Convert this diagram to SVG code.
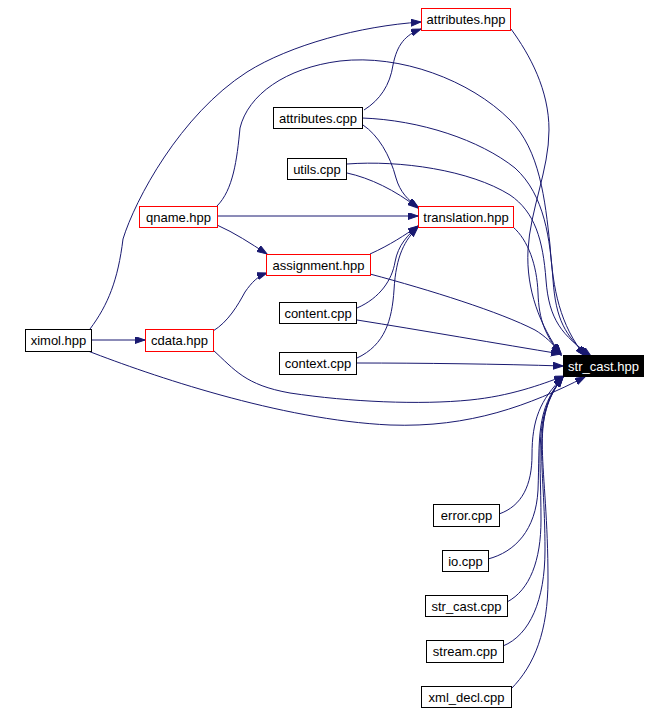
<svg xmlns="http://www.w3.org/2000/svg" width="668" height="710" viewBox="0 0 668 710">
<style>
.n rect{fill:#fff;stroke:#000;stroke-width:1}
.n.r rect{stroke:#ff0000}
.n text{font-family:"Liberation Sans",Arial,sans-serif;font-size:13px;text-anchor:middle;fill:#000}
.n.b rect{fill:#000;stroke:#000}
.n.b text{fill:#fff}
#edges path{fill:none;stroke:#191970;stroke-width:1;marker-end:url(#ah)}
</style>
<defs>
<marker id="ah" markerUnits="userSpaceOnUse" markerWidth="11" markerHeight="8" refX="10" refY="3.5" orient="auto">
<path d="M0,0 L10,3.5 L0,7 z" fill="#191970" stroke="#191970" stroke-width="1"/>
</marker>
</defs>
<rect width="668" height="710" fill="#fff"/>
<g id="edges">
<path d="M90,329 C108,305 118,280 123,239 C135,200 180,115 247,72 C290,45 360,26 421,22"/>
<path d="M91,340 L145,340"/>
<path d="M88,351 C150,375 280,420 390,425 C470,428 530,405 585,377"/>
<path d="M217,206 C233,190 237,160 240,128 C248,95 285,68 340,61 C400,54 470,80 510,120 C540,150 545,200 550,245 C553,290 560,325 585,356"/>
<path d="M217,216 L418,216"/>
<path d="M217,225 C235,233 250,243 267,254"/>
<path d="M364,110 C380,100 390,85 393,65 C397,45 405,35 421,29"/>
<path d="M363,125 C378,135 390,155 396,178 C400,192 408,200 418,207"/>
<path d="M362,118 C420,120 480,140 515,168 C545,195 550,240 553,280 C556,320 565,335 588,356"/>
<path d="M347,173 C370,178 395,190 418,208"/>
<path d="M347,164 C400,160 470,170 510,195 C535,212 543,240 546,280 C549,320 562,335 591,356"/>
<path d="M511,29 C530,55 549,90 549,130 C549,170 530,210 528,250 C526,290 540,325 561,355"/>
<path d="M513,227 C528,240 537,265 538,293 C539,320 545,335 561,355"/>
<path d="M370,254 C390,245 405,235 418,226"/>
<path d="M370,274 C430,290 500,312 535,330 C545,336 552,343 561,353"/>
<path d="M357,308 C380,298 392,280 395,262 C398,245 408,235 418,226"/>
<path d="M357,320 C420,330 500,344 561,354"/>
<path d="M357,358 C385,345 392,320 394,290 C396,255 405,240 418,227"/>
<path d="M357,363 C420,363 500,364 563,366"/>
<path d="M213,331 C228,322 238,305 245,292 C252,282 258,276 267,273"/>
<path d="M213,350 C235,370 245,385 290,393 C350,402 420,405 470,400 C510,396 540,385 564,376"/>
<path d="M499,514 C522,506 532,485 532,455 C532,420 540,400 563,377"/>
<path d="M488,559 C515,552 536,530 538,490 C540,440 535,410 563,377"/>
<path d="M507,602 C530,590 541,560 541,520 C541,450 533,415 563,377"/>
<path d="M503,646 C530,635 545,600 545,550 C545,460 530,420 563,377"/>
<path d="M511,689 C535,665 548,630 548,580 C548,460 528,420 563,377"/>
</g>
<g id="attributes_hpp" class="n r"><rect x="421.5" y="8.5" width="89" height="22"/><text x="466" y="24">attributes.hpp</text></g>
<g id="attributes_cpp" class="n"><rect x="273.5" y="107.5" width="89" height="21"/><text x="318" y="122.5">attributes.cpp</text></g>
<g id="utils_cpp" class="n"><rect x="287.5" y="158.5" width="59" height="21"/><text x="317" y="173.5">utils.cpp</text></g>
<g id="qname_hpp" class="n r"><rect x="139.5" y="206.5" width="78" height="21"/><text x="178.5" y="221.5">qname.hpp</text></g>
<g id="translation_hpp" class="n r"><rect x="418.5" y="206.5" width="95" height="21"/><text x="466" y="221.5">translation.hpp</text></g>
<g id="assignment_hpp" class="n r"><rect x="266.5" y="254.5" width="104" height="21"/><text x="318.5" y="269.5">assignment.hpp</text></g>
<g id="content_cpp" class="n"><rect x="279.5" y="302.5" width="77" height="21"/><text x="318" y="317.5">content.cpp</text></g>
<g id="ximol_hpp" class="n"><rect x="25.5" y="329.5" width="66" height="22"/><text x="58.5" y="345">ximol.hpp</text></g>
<g id="cdata_hpp" class="n r"><rect x="145.5" y="329.5" width="68" height="22"/><text x="179.5" y="345">cdata.hpp</text></g>
<g id="context_cpp" class="n"><rect x="279.5" y="352.5" width="77" height="22"/><text x="318" y="368">context.cpp</text></g>
<g id="str_cast_hpp" class="n b"><rect x="563.5" y="355.5" width="80" height="21"/><text x="603.5" y="370.5">str_cast.hpp</text></g>
<g id="error_cpp" class="n"><rect x="433.5" y="504.5" width="66" height="22"/><text x="466.5" y="520">error.cpp</text></g>
<g id="io_cpp" class="n"><rect x="442.5" y="550.5" width="46" height="21"/><text x="465.5" y="565.5">io.cpp</text></g>
<g id="str_cast_cpp" class="n"><rect x="425.5" y="595.5" width="82" height="21"/><text x="466.5" y="610.5">str_cast.cpp</text></g>
<g id="stream_cpp" class="n"><rect x="426.5" y="640.5" width="77" height="22"/><text x="465" y="656">stream.cpp</text></g>
<g id="xml_decl_cpp" class="n"><rect x="421.5" y="686.5" width="90" height="21"/><text x="466.5" y="701.5">xml_decl.cpp</text></g>
</svg>
